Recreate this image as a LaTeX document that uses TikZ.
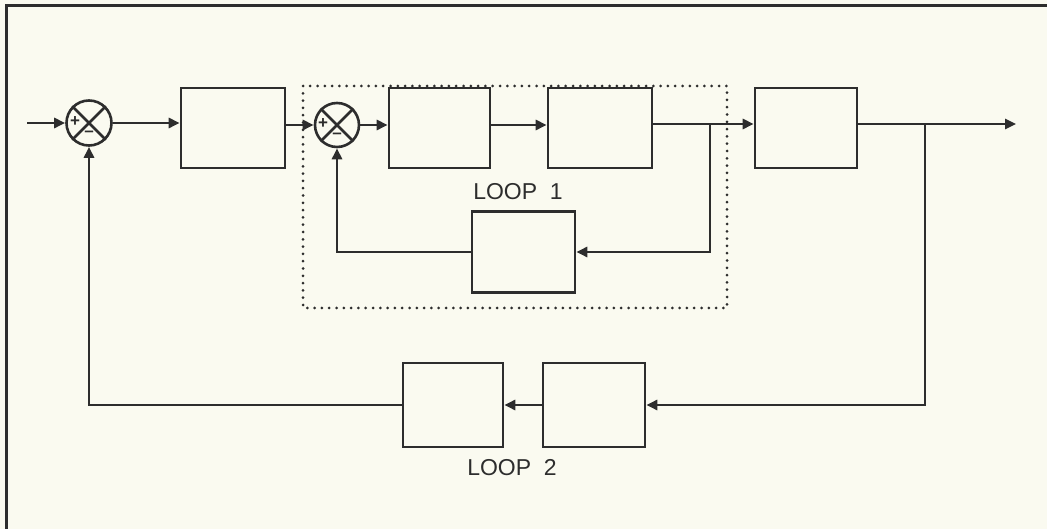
\documentclass[tikz,border=0pt]{standalone}
\usepackage{fontspec}
\setmainfont{Liberation Sans}
\usetikzlibrary{arrows.meta,calc}
\definecolor{bg}{RGB}{250,250,240}
\definecolor{ink}{RGB}{45,45,45}
\tikzset{
  sig/.style={draw=ink,line width=2.6pt,-{Triangle[length=11pt,width=10pt]}},
  wire/.style={draw=ink,line width=2.6pt},
  blk/.style={draw=ink,line width=2.6pt,rectangle,inner sep=0pt},
  summer/.style={draw=ink,line width=2.6pt,circle,inner sep=0pt,minimum size=45pt},
  lbl/.style={font=\fontsize{23}{26}\selectfont,text=ink,inner sep=0pt},
  sgn/.style={font=\fontsize{17}{18}\selectfont\bfseries,text=ink,inner sep=0pt},
  dotbox/.style={draw=ink,line width=3pt,line cap=round,dash pattern=on 0pt off 7.3pt}
}
\begin{document}
\begin{tikzpicture}[x=1pt,y=-1pt]
\fill[bg] (0,0) rectangle (1047,529);
\useasboundingbox (0,0) rectangle (1047,529);
% frame (top and left edges visible)
\draw[wire,line width=3pt] (6,529) -- (6,6) -- (1047,6);
% dotted loop-1 box
\draw[dotbox] (303,86) rectangle (727,308);
% summing junctions
\node[summer] (s1) at (89,123) {};
\node[summer,minimum size=44pt] (s2) at (337,125) {};
\foreach \s in {s1,s2}{
  \draw[wire] (\s.north west) -- (\s.south east);
  \draw[wire] (\s.north east) -- (\s.south west);
  \node[sgn] at ($(\s.center)+(-14,-1)$) {+};
  \node[sgn] at ($(\s.center)+(0,11)$) {–};
}
% blocks
\node[blk,minimum width=104pt,minimum height=80pt] (b1) at (233,128) {};
\node[blk,minimum width=101pt,minimum height=80pt] (b2) at (439.5,128) {};
\node[blk,minimum width=104pt,minimum height=80pt] (b3) at (600,128) {};
\node[blk,minimum width=102pt,minimum height=80pt] (b4) at (806,128) {};
\node[blk,minimum width=103pt,minimum height=81pt] (f1) at (523.5,252) {};
\node[blk,minimum width=100pt,minimum height=84pt] (l2a) at (453,405) {};
\node[blk,minimum width=102pt,minimum height=84pt] (l2b) at (594,405) {};
% labels
\node[lbl] (t1) at (518,192) {LOOP\ \ 1};
\node[lbl] (t2) at (512,468) {LOOP\ \ 2};
% coordinates
\coordinate (in) at (27,123);
\coordinate (out) at (1016,124);
\coordinate (j1) at (710,124);
\coordinate (j2) at (925,124);
% forward path
\draw[sig] (in) -- (s1.west);
\draw[sig] (s1.east) -- (s1.east -| b1.west);
\draw[sig] (b1.east |- s2.west) -- (s2.west);
\draw[sig] (s2.east) -- (s2.east -| b2.west);
\draw[sig] (b2.east |- s2.east) -- (s2.east -| b3.west);
\draw[sig] (b3.east |- j1) -- (j1 -| b4.west);
\draw[sig] (b4.east |- out) -- (out);
% loop 1 feedback
\draw[sig] (j1) -- (j1 |- f1.east) -- (f1.east);
\draw[sig] (f1.west) -- (f1.west -| s2.south) -- (s2.south);
% loop 2 feedback
\draw[sig] (j2) -- (j2 |- l2b.east) -- (l2b.east);
\draw[sig] (l2b.west) -- (l2a.east);
\draw[sig] (l2a.west) -- (l2a.west -| s1.south) -- (s1.south);
\end{tikzpicture}
\end{document}
